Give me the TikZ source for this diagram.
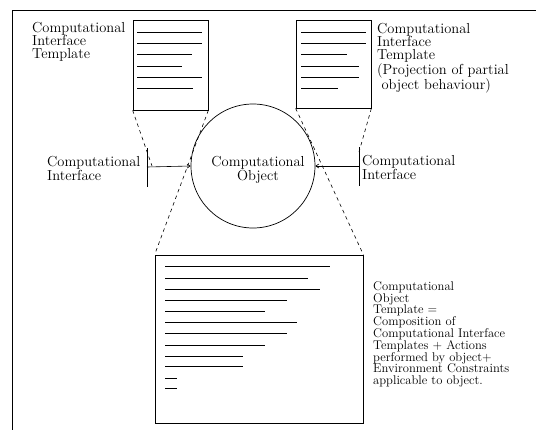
\documentclass[tikz,border=0pt]{standalone}
\usetikzlibrary{arrows.meta}
\begin{document}
\begin{tikzpicture}[x=1pt,y=-1pt,
  frameline/.style={line width=1pt},
  tbox/.style={draw, line width=0.7pt, inner sep=0pt},
  rule/.style={line width=0.6pt},
  proj/.style={line width=0.6pt, dash pattern=on 3.5pt off 3.5pt},
  conn/.style={line width=0.6pt, -{Straight Barb[length=3pt,width=4pt]}},
  bar/.style={line width=0.8pt},
  lab/.style={inner sep=0pt, font=\fontsize{14.5}{13.3}\selectfont},
  slab/.style={inner sep=0pt, font=\fontsize{12.6}{11.8}\selectfont}]
\useasboundingbox (0,0) rectangle (536,432);
% outer frame (cropped)
\draw[frameline] (536,10) -- (12,10) -- (12,430);
% template boxes
\node[tbox, minimum width=75pt, minimum height=90pt] (citA) at (170.5,65) {};
\node[tbox, minimum width=75pt, minimum height=88pt] (citB) at (333.5,64) {};
\node[tbox, minimum width=208pt, minimum height=168pt] (cot) at (259,339) {};
% object circle
\node[draw, circle, line width=0.7pt, minimum size=124pt, inner sep=0pt] (obj) at (253,166) {};
\node[lab, align=center, anchor=north] (objlab) at (258,156.5) {Computational\\Object};
% rules in left template
\foreach \y/\e in {32/202,43/202,54/192,66/182,77/202,88/193}
  \draw[rule] (137,\y) -- (\e,\y);
% rules in right template
\foreach \y/\e in {32/366,43/366,54/347,66/359,77/359,88/338}
  \draw[rule] (301,\y) -- (\e,\y);
% rules in object template
\foreach \y/\e in {266.7/330,278/308,289.3/320,300.7/287,311.7/265,322.7/297,333.3/287,345/265,356/243,366.7/243,378/177,388.3/177}
  \draw[rule] (165,\y) -- (\e,\y);
% interfaces
\coordinate (lbt) at (147,148);
\coordinate (lbb) at (147,187);
\coordinate (lbm) at (147,167);
\coordinate (rbt) at (359,147);
\coordinate (rbb) at (359,186);
\coordinate (rbm) at (359,166);
\draw[bar] (lbt) -- (lbb);
\draw[bar] (rbt) -- (rbb);
\draw[conn] (lbm) -- (obj.west);
\draw[conn] (rbm) -- (obj.east);
% projection lines
\coordinate (lproj) at (152,166);
\coordinate (rproj) at (359,152);
\draw[proj] (citA.south west) -- (lproj);
\draw[proj] (citA.south east) -- (cot.north west);
\draw[proj] (citB.south west) -- (cot.north east);
\draw[proj] (citB.south east) -- (rproj);
% labels
\node[lab, align=left, anchor=north west] (citAlab) at (32,21.7) {Computational\\Interface\\Template};
\node[lab, align=left, anchor=north west] (citBlab) at (377,22.7) {Computational\\Interface\\Template\\(Projection of partial\\\hspace*{0.3em}object behaviour)};
\node[lab, align=left, anchor=north west] (lilab) at (47,156.5) {Computational\\Interface};
\node[lab, align=left, anchor=north west] (rilab) at (362,155.5) {Computational\\Interface};
\node[slab, align=left, anchor=north west] (cotlab) at (373,281.3) {Computational\\Object\\Template =\\Composition of\\Computational Interface\\Templates + Actions\\performed by object+\\Environment Constraints\\applicable to object.};
\end{tikzpicture}
\end{document}
